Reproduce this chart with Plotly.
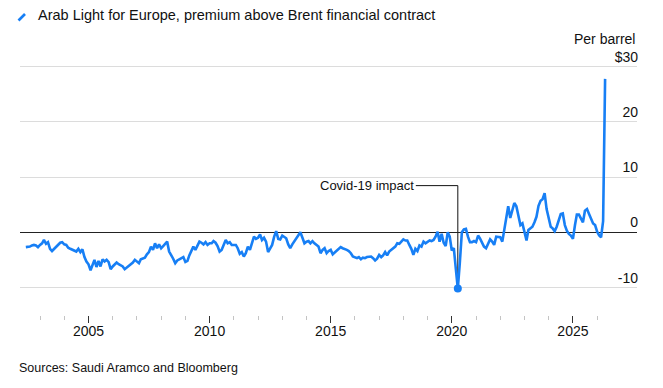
import numpy as np
import pandas as pd
import plotly.graph_objects as go

# ---------------- data ----------------
start_month = "2002-06-01"  # monthly series, Arab Light (Europe) premium vs Brent, $/bbl
premium = [
    -2.7, -2.7, -2.6, -2.4, -2.3, -2.4, -2.7, -2.3, -2.0, -1.4,
    -2.1, -1.8, -3.0, -3.4, -3.0, -2.7, -2.4, -1.9, -1.8, -2.2,
    -2.3, -2.8, -3.0, -3.2, -3.3, -3.5, -3.0, -3.6, -3.1, -4.5,
    -5.3, -5.8, -6.9, -6.0, -5.0, -6.3, -5.2, -6.2, -4.9, -5.3,
    -5.0, -5.4, -6.7, -6.2, -5.8, -5.5, -5.8, -6.0, -6.2, -6.7,
    -6.4, -6.1, -5.9, -5.5, -5.0, -5.3, -5.6, -4.9, -4.7, -4.6,
    -4.0, -3.6, -2.6, -3.2, -2.0, -2.9, -2.2, -2.9, -2.5, -2.0,
    -1.7, -3.5, -4.1, -4.8, -5.6, -5.1, -4.9, -4.7, -4.5, -5.4,
    -5.2, -4.2, -3.2, -2.6, -3.2, -2.3, -1.7, -1.9, -2.2, -1.8,
    -2.3, -2.0, -2.0, -1.6, -1.9, -2.5, -3.5, -3.2, -2.2, -1.4,
    -2.0, -1.8, -2.3, -2.3, -2.3, -2.9, -3.9, -3.6, -4.4, -3.8,
    -2.6, -3.2, -2.0, -0.8, -1.2, -1.0, -0.4, -1.4, -1.0, -1.7,
    -3.6, -2.9, -2.3, -0.8, 0.2, -1.2, -1.3, -0.6, -0.9, -1.1,
    -2.2, -2.9, -2.2, -1.6, -1.1, -0.5, 0.0, -1.0, -2.0, -1.7,
    -1.6, -2.0, -1.6, -2.0, -2.3, -2.6, -3.8, -3.2, -2.9, -3.8,
    -3.4, -3.2, -4.0, -3.7, -3.5, -3.0, -2.7, -2.9, -3.0, -3.2,
    -3.4, -3.8, -4.4, -4.6, -4.7, -4.5, -4.9, -4.6, -4.7, -4.5,
    -4.5, -4.4, -4.7, -5.1, -4.8, -4.1, -4.5, -4.2, -3.6, -4.2,
    -3.5, -3.2, -3.0, -2.6, -2.0, -2.1, -1.7, -1.3, -1.5, -1.5,
    -2.3, -3.0, -4.1, -3.0, -3.4, -2.4, -2.6, -1.7, -2.0, -1.7,
    -1.5, -1.6, -1.4, -0.8, 0.1, -1.7, -0.3, -1.9, -2.5, 0.0,
    -0.8, -3.3, -2.9, -6.5, -10.2, -5.6, 0.0, 0.5, 0.6, -0.8,
    -1.8, -1.8, -1.6, -1.8, -0.6, -1.1, -1.9, -2.6, -2.9, -2.0,
    -1.3, -1.7, -2.3, -0.8, -0.9, -0.9, -1.7, 0.2, 2.5, 4.7,
    2.6, 4.2, 5.3, 4.7, 3.0, 1.3, 1.6, 0.1, -1.5, 0.4,
    0.7, 1.0, 1.8, 2.8, 4.8, 5.7, 6.0, 7.1, 4.2, 2.4,
    1.0, 0.7, 0.2, 1.0, 2.2, 3.3, 3.4, 1.3, 0.3, -0.3,
    -0.6, -1.2, 1.3, 3.2, 3.2, 2.6, 1.8, 3.9, 4.2, 3.3,
    2.6, 1.6, 1.3, 0.1, -0.6, -0.9, 2.0, 27.8,
]
dates = pd.date_range(start_month, periods=len(premium), freq="MS")

y_tickvals = [-10, 0, 10, 20, 30]
y_ticktext = ["-10", "0", "10", "20", "$30"]
y_unit_label = "Per barrel"
x_major_vals = ["2005-01-01", "2010-01-01", "2015-01-01", "2020-01-01", "2025-01-01"]
x_major_text = ["2005", "2010", "2015", "2020", "2025"]

title_text = "Arab Light for Europe, premium above Brent financial contract"
source_text = "Sources: Saudi Aramco and Bloomberg"
note_text = "Covid-19 impact"
note_level = 8.45

# ---------------- styling ----------------
BLUE = "#177ff5"
FONT = "Liberation Sans, Arial, sans-serif"
W, H = 663, 388
OFF = 8  # page body margin offset
ML, MR, MT, MB = 20 - OFF, 26 + OFF, 27 - OFF, 73 + OFF

fig = go.Figure()
fig.add_trace(go.Scatter(
    x=dates, y=premium, mode="lines",
    line=dict(color=BLUE, width=2.6, shape="linear"),
    showlegend=False, hoverinfo="skip",
))

idx = int(np.argmin(premium))
fig.add_trace(go.Scatter(
    x=[dates[idx]], y=[premium[idx]], mode="markers",
    marker=dict(color=BLUE, size=8), showlegend=False, hoverinfo="skip",
))

# Covid connector (elbow)
fig.add_shape(type="line", xref="x", yref="y",
              x0=dates[idx], x1=dates[idx], y0=premium[idx], y1=note_level,
              line=dict(color="#111", width=1), layer="below")
fig.add_shape(type="line", xref="x", yref="y", xsizemode="pixel", xanchor=dates[idx],
              x0=-42, x1=0, y0=note_level, y1=note_level,
              line=dict(color="#111", width=1), layer="below")
fig.add_annotation(x=dates[idx], y=note_level, xref="x", yref="y",
                   xshift=-42, xanchor="right", yanchor="middle",
                   text=note_text, showarrow=False,
                   font=dict(family=FONT, size=13, color="#111"))

plot_w = W - ML - MR
plot_h = H - MT - MB

def px_x(px):
    return (px - OFF - ML) / plot_w

def px_y(py):
    return (H - MB - (py - OFF)) / plot_h

# legend-style icon next to title
fig.add_shape(type="line", xref="paper", yref="paper",
              x0=px_x(18.5), y0=px_y(20.5), x1=px_x(25), y1=px_y(14),
              line=dict(color=BLUE, width=2.6))

fig.add_annotation(xref="paper", yref="paper", x=px_x(36), y=px_y(14.5),
                   xanchor="left", yanchor="middle", text=title_text, showarrow=False,
                   font=dict(family=FONT, size=14.5, color="#111"))

fig.add_annotation(xref="paper", yref="paper", x=px_x(17), y=px_y(368),
                   xanchor="left", yanchor="middle", text=source_text, showarrow=False,
                   font=dict(family=FONT, size=12.5, color="#111"))

# unit label above the top tick
fig.add_annotation(xref="paper", yref="y", x=1, y=y_tickvals[-1], yshift=28,
                   xanchor="right", yanchor="middle", text=y_unit_label, showarrow=False,
                   font=dict(family=FONT, size=14, color="#111"))

fig.update_layout(
    width=W, height=H,
    margin=dict(l=ML, r=MR, t=MT, b=MB, pad=0),
    paper_bgcolor="white", plot_bgcolor="white",
    font=dict(family=FONT, color="#111"),
    xaxis=dict(
        type="date",
        range=["2002-03-05", "2027-08-25"],
        tickmode="array", tickvals=x_major_vals, ticktext=x_major_text,
        ticks="outside", ticklen=7, tickwidth=1, tickcolor="#333",
        ticklabelstandoff=-4,
        tickfont=dict(size=14, family=FONT, color="#111"),
        showgrid=False, zeroline=False, showline=False,
        minor=dict(dtick="M12", tick0="2003-01-01",
                   ticks="outside", ticklen=4, tickwidth=1, tickcolor="#c4c4c4",
                   showgrid=False),
    ),
    yaxis=dict(
        range=[-15, 37.2],
        side="right",
        tickmode="array", tickvals=y_tickvals, ticktext=y_ticktext,
        ticklabelposition="inside top",
        ticklabelstandoff=-4,
        ticks="",
        tickfont=dict(size=14, family=FONT, color="#111"),
        showgrid=True, gridcolor="#dcdcdc", gridwidth=1.3,
        zeroline=True, zerolinecolor="#222", zerolinewidth=1.3,
        showline=False,
    ),
)

fig.write_html("out.html")
